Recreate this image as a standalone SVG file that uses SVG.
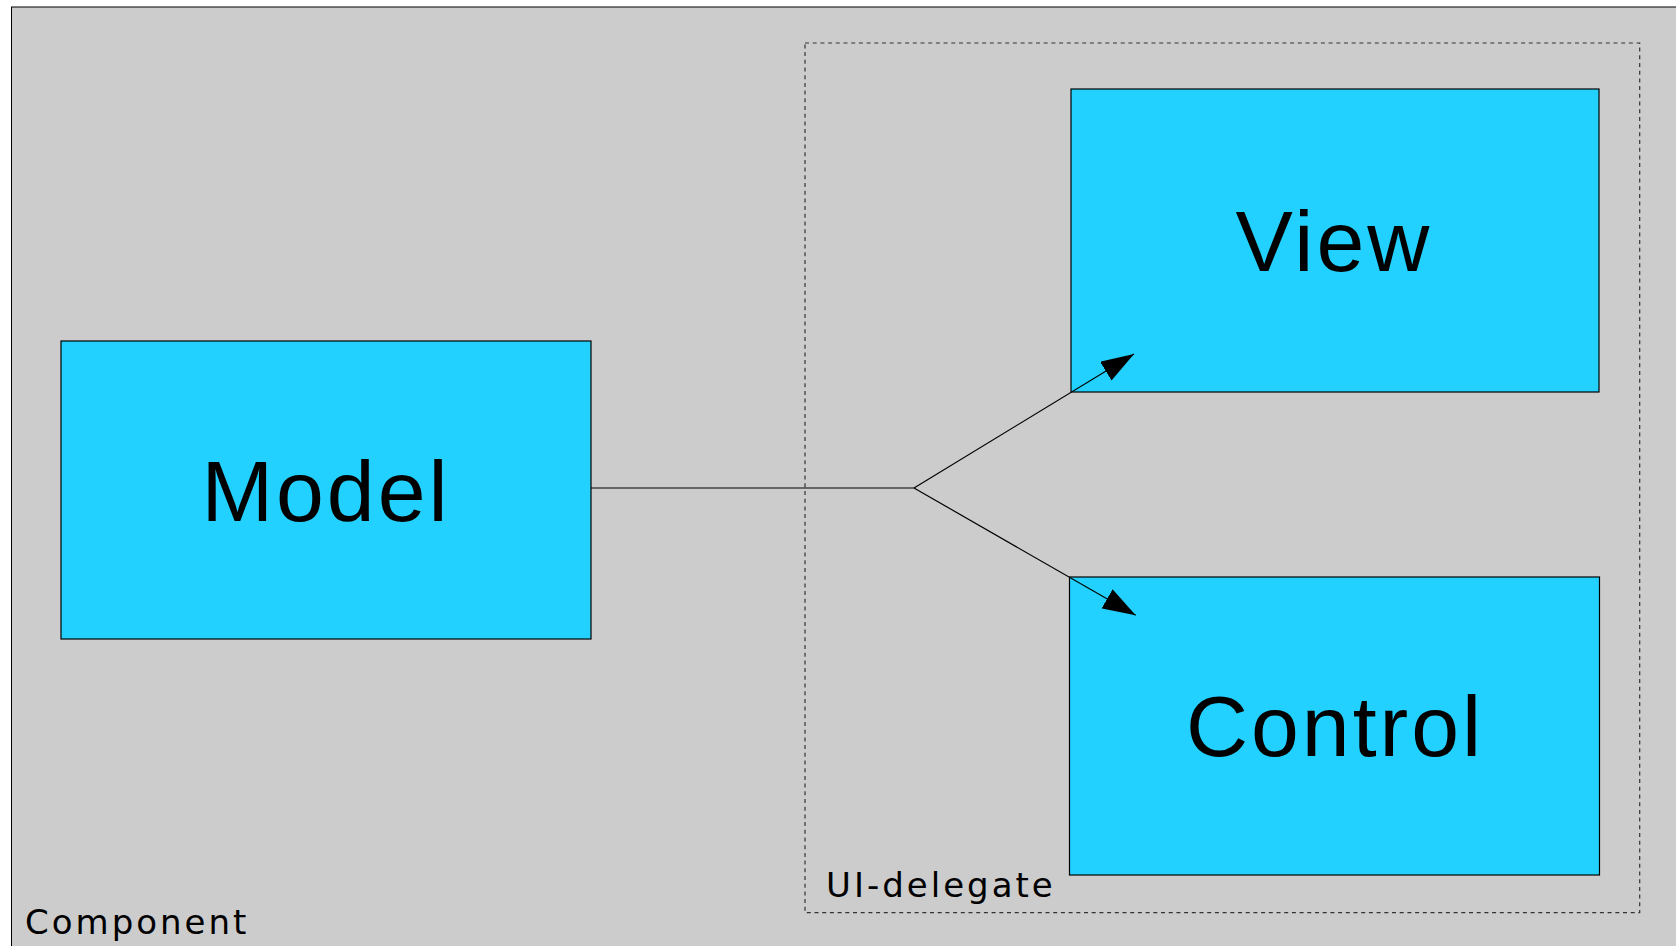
<svg xmlns="http://www.w3.org/2000/svg" width="1676" height="946" viewBox="0 0 1676 946">
<defs>
<style>
.node{fill:#22d1ff;stroke:#000;stroke-width:1.2}
.big{font-family:"Liberation Sans",Arial,sans-serif;font-size:86px;letter-spacing:3px;fill:#000;text-anchor:middle}
.small{font-family:"DejaVu Sans",sans-serif;font-size:34px;letter-spacing:3px;fill:#000}
.conn{fill:none;stroke:#000;stroke-width:1.2}
</style>
<marker id="arrow" viewBox="0 0 33 22" refX="33" refY="11" markerWidth="33" markerHeight="22" markerUnits="userSpaceOnUse" orient="auto">
<path d="M0,0 L33,11 L0,22 Z" fill="#000"/>
</marker>
</defs>
<rect width="1676" height="946" fill="#fff"/>
<g id="component">
<rect x="11.5" y="7" width="1680" height="950" fill="#cccccc" stroke="#000" stroke-width="1"/>
<text class="small" x="25" y="934">Component</text>
</g>
<g id="ui-delegate">
<rect x="805" y="43" width="834.7" height="869.7" fill="none" stroke="#333" stroke-width="1.2" stroke-dasharray="4 3.7"/>
<text class="small" x="826" y="897">UI-delegate</text>
</g>
<g id="model">
<rect class="node" x="61" y="341" width="530" height="298"/>
<text class="big" x="326" y="521">Model</text>
</g>
<g id="view">
<rect class="node" x="1071" y="89" width="528" height="303"/>
<text class="big" x="1334" y="271">View</text>
</g>
<g id="control">
<rect class="node" x="1069.5" y="577" width="530" height="298"/>
<text class="big" x="1335" y="756">Control</text>
</g>
<g id="connectors">
<polyline class="conn" points="591,488 914,488"/>
<line class="conn" x1="914" y1="488" x2="1134" y2="354" marker-end="url(#arrow)"/>
<line class="conn" x1="914" y1="488" x2="1135.7" y2="615.3" marker-end="url(#arrow)"/>
</g>
</svg>
